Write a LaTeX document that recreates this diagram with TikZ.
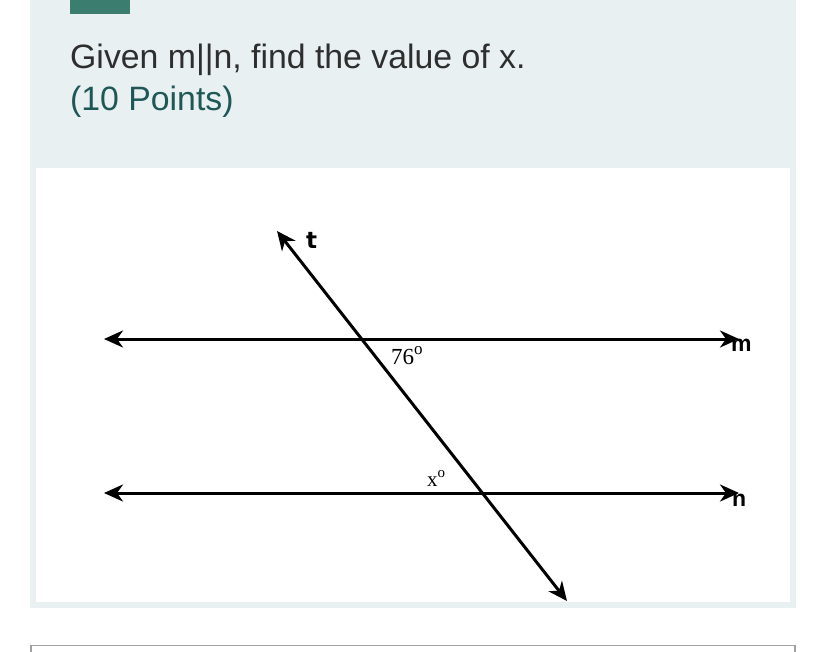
\documentclass[tikz,border=0pt]{standalone}
\usepackage{fontspec}
\setmainfont{Liberation Sans}
\newfontfamily\angfont{Liberation Serif}
\newfontfamily\tfont{DejaVu Sans}
\usetikzlibrary{arrows.meta}
\definecolor{panelbg}{HTML}{E8F0F1}
\definecolor{teal}{HTML}{3B7D6F}
\definecolor{titletxt}{HTML}{2E2E2E}
\definecolor{pointstxt}{HTML}{1F5757}
\definecolor{boxline}{HTML}{A0A0A0}
\newcommand{\dego}[1]{\raisebox{0.42em}{\fontsize{#1}{#1}\selectfont o}}
\tikzset{
  geoline/.style={line width=3pt, black, {Stealth[length=19pt,width=17pt,inset=6pt]}-{Stealth[length=19pt,width=17pt,inset=6pt]}},
  linelabel/.style={inner sep=0pt, font=\fontsize{23}{25}\selectfont\bfseries},
  anglabel/.style={inner sep=0pt, font=\fontsize{23}{25}\selectfont\angfont},
}
\begin{document}
\begin{tikzpicture}[x=1pt,y=-1pt]
\useasboundingbox (0,0) rectangle (826,652);
\fill[white] (0,0) rectangle (826,652);
% panel
\fill[panelbg] (30,0) rectangle (796,608);
\fill[white] (36,168) rectangle (790,602);
\fill[teal] (70,0) rectangle (130,14);
% texts
\node[anchor=base west, inner sep=0pt, text=titletxt, font=\fontsize{33.8}{40}\selectfont] (title) at (70,69) {Given m||n, find the value of x.};
\node[anchor=base west, inner sep=0pt, text=pointstxt, font=\fontsize{33.8}{40}\selectfont] (points) at (70,111) {(10 Points)};
% bottom box
\draw[boxline, line width=1.5pt] (31,660) -- (31,645.5) -- (795,645.5) -- (795,660);
% geometry
\coordinate (mL) at (104,339);
\coordinate (mR) at (739,339);
\coordinate (nL) at (104,493);
\coordinate (nR) at (739,493);
\coordinate (tTop) at (277,231);
\coordinate (tBot) at (567,601);
\draw[geoline] (mL) -- (mR);
\draw[geoline] (nL) -- (nR);
\draw[geoline] (tTop) -- (tBot);
\node[linelabel, anchor=base west] (mlab) at (731,351) {m};
\node[linelabel, anchor=base west] (nlab) at (732,506) {n};
\node[linelabel, anchor=base west, font=\fontsize{23}{25}\selectfont\tfont\bfseries] (tlab) at (306,248) {t};
\node[anglabel, anchor=base west] (a76) at (391,364) {76\dego{17}};
\node[anglabel, anchor=base west, font=\fontsize{21}{23}\selectfont\angfont] (ax) at (427,486) {x\dego{15}};
\end{tikzpicture}
\end{document}
